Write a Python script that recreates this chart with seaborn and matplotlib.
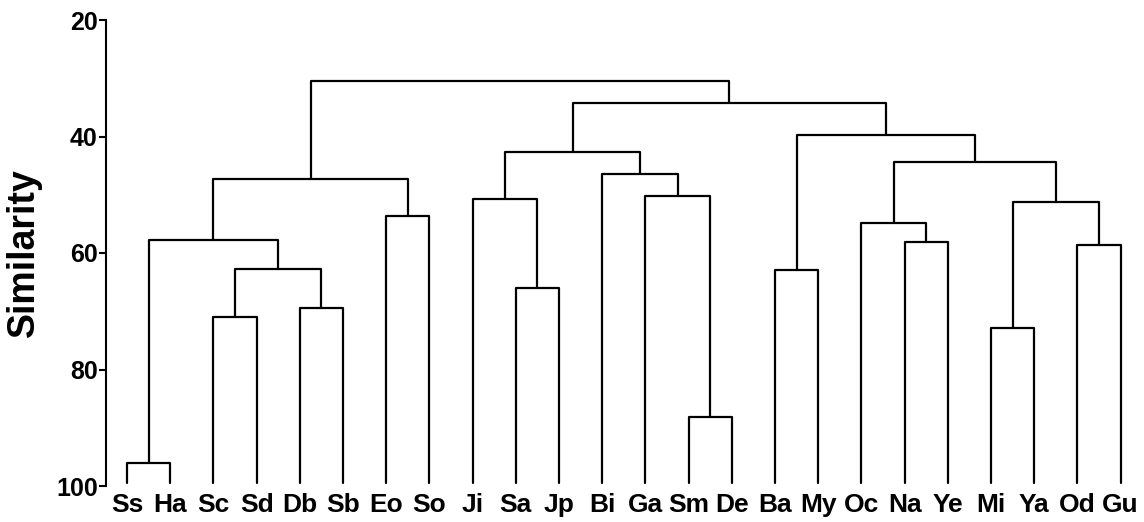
import matplotlib
matplotlib.use("Agg")
import matplotlib.pyplot as plt
import seaborn as sns
import pandas as pd

# leaf order along the bottom
leaves = ["Ss", "Ha", "Sc", "Sd", "Db", "Sb", "Eo", "So", "Ji", "Sa", "Jp", "Bi",
          "Ga", "Sm", "De", "Ba", "My", "Oc", "Na", "Ye", "Mi", "Ya", "Od", "Gu"]

# merges: (left node, right node); leaves are 0..23, new clusters numbered from 24
merge_left = [0, 2, 4, 25, 24, 6, 28, 9, 8, 13, 12, 11, 32, 15, 18, 17, 20, 22, 40, 39, 37, 36, 30]
merge_right = [1, 3, 5, 26, 27, 7, 29, 10, 31, 14, 33, 34, 35, 16, 19, 38, 21, 23, 41, 42, 43, 44, 45]
merge_height = [96.0, 71.0, 69.5, 62.7, 57.7, 53.6, 47.3, 66.0, 50.7, 88.2, 50.3, 46.4,
                42.6, 62.9, 58.1, 54.8, 72.9, 58.7, 51.2, 44.3, 39.7, 34.2, 30.5]

leaf_height = 99.5
yticks = [20, 40, 60, 80, 100]

# dendrogram layout
xpos = {i: float(i) for i in range(len(leaves))}
hpos = {i: leaf_height for i in range(len(leaves))}
rows = []
for k, (a, b, h) in enumerate(zip(merge_left, merge_right, merge_height)):
    node = len(leaves) + k
    pts = [(xpos[a], hpos[a]), (xpos[a], h), (xpos[b], h), (xpos[b], hpos[b])]
    for j, (x, y) in enumerate(pts):
        rows.append({"seg": k, "order": j, "x": x, "y": y})
    xpos[node] = (xpos[a] + xpos[b]) / 2
    hpos[node] = h
df = pd.DataFrame(rows)

sns.set_theme(style="white")
plt.rcParams["font.family"] = ["Liberation Sans", "DejaVu Sans"]

fig = plt.figure(figsize=(11.44, 5.22), dpi=100)
ax = fig.add_axes([106 / 1144, 36 / 522, 1 - 106 / 1144, 466 / 522])

sns.lineplot(data=df, x="x", y="y", units="seg", estimator=None, sort=False,
             color="black", linewidth=1.6, legend=False, ax=ax)

ax.set_ylim(100, 20)
ax.set_xlim(-0.486, 23.54)
ax.set_yticks(yticks)
ax.set_xticks(range(len(leaves)))
ax.set_xticklabels(leaves, fontsize=19, fontweight="bold")
for lab in ax.get_yticklabels():
    lab.set_fontweight("bold")
ax.tick_params(axis="y", direction="out", length=5, width=1.5, labelsize=18, pad=1, left=True, colors="black")
ax.tick_params(axis="x", length=0, pad=5, colors="black")

for s in ["top", "right", "bottom"]:
    ax.spines[s].set_visible(False)
ax.spines["left"].set_color("black")
ax.spines["left"].set_linewidth(1.5)

ax.set_xlabel("")
ax.set_ylabel("Similarity", fontsize=27, fontweight="bold", color="black")
ax.yaxis.set_label_coords(-0.062, 0.5)

fig.savefig("out.png", dpi=100, facecolor="white")
